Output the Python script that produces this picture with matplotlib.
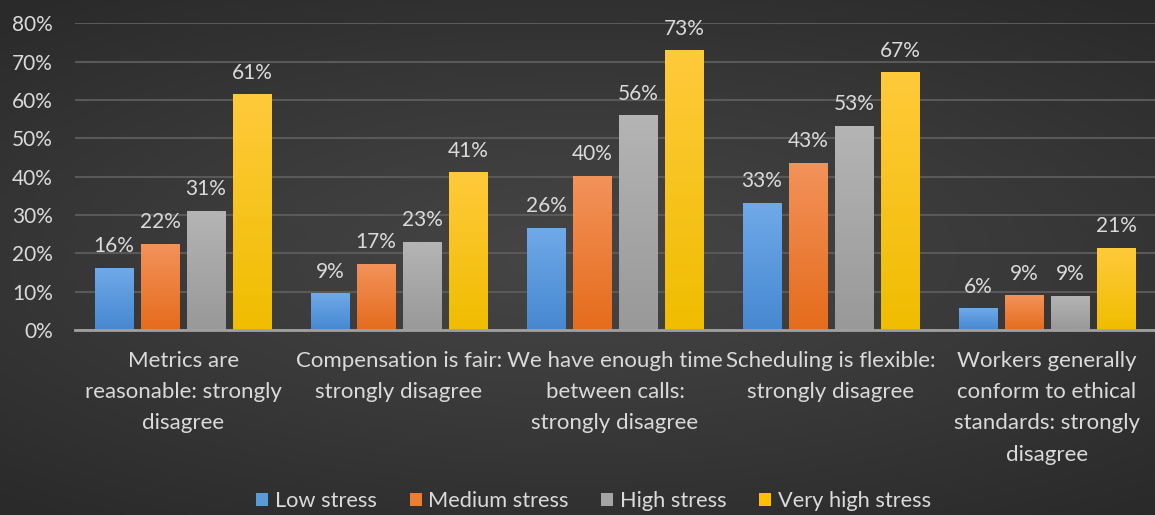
import numpy as np
import matplotlib.pyplot as plt
from matplotlib.colors import LinearSegmentedColormap
from matplotlib.patches import Patch

# %% Data
categories = ["Metrics are\nreasonable: strongly\ndisagree",
              "Compensation is fair:\nstrongly disagree",
              "We have enough time\nbetween calls:\nstrongly disagree",
              "Scheduling is flexible:\nstrongly disagree",
              "Workers generally\nconform to ethical\nstandards: strongly\ndisagree"]
series_names = ["Low stress", "Medium stress", "High stress", "Very high stress"]
low_stress = [0.16, 0.094, 0.265, 0.33, 0.055]
medium_stress = [0.224, 0.172, 0.40, 0.434, 0.089]
high_stress = [0.31, 0.228, 0.558, 0.53, 0.087]
very_high_stress = [0.613, 0.41, 0.728, 0.67, 0.213]
yticks = [0, 0.1, 0.2, 0.3, 0.4, 0.5, 0.6, 0.7, 0.8]

values = [low_stress, medium_stress, high_stress, very_high_stress]
# (top colour, bottom colour) for the Excel-like gradient fills
grad_colors = [("#6fa9e8", "#4688d0"),
               ("#f3925a", "#e56c1c"),
               ("#b4b4b4", "#999999"),
               ("#ffca3a", "#f0bd00")]
legend_colors = ["#5b9bd5", "#ed7d31", "#a5a5a5", "#ffc000"]
text_color = "#dadada"
font = "Lato"

fig = plt.figure(figsize=(11.55, 5.15), dpi=100)

# %% Dark radial background
bg_ax = fig.add_axes([0, 0, 1, 1], zorder=-10)
yy, xx = np.mgrid[-1:1:300j, -1:1:600j]
rr = np.sqrt((xx * 0.9) ** 2 + (yy * 1.1) ** 2)
bg_cmap = LinearSegmentedColormap.from_list("bg", ["#464646", "#393939", "#2a2a2a"])
bg_ax.imshow(rr, cmap=bg_cmap, aspect="auto", extent=[0, 1, 0, 1], vmin=0, vmax=1.4)
bg_ax.set_axis_off()

# %% Main axes
ax = fig.add_axes([0.065, 0.359, 0.935, 0.596])
ax.patch.set_alpha(0)
x = np.arange(len(categories))
width = 0.18
step = 0.213
offsets = (np.arange(len(series_names)) - 1.5) * step

for i, (name, vals) in enumerate(zip(series_names, values)):
    bars = ax.bar(x + offsets[i], vals, width, color="none", zorder=3)
    cmap = LinearSegmentedColormap.from_list(name, [grad_colors[i][1], grad_colors[i][0]])
    for b, v in zip(bars, vals):
        x0 = b.get_x()
        h = b.get_height()
        grad = np.linspace(0, 1, 64).reshape(-1, 1)
        ax.imshow(grad, cmap=cmap, origin="lower", aspect="auto",
                  extent=[x0, x0 + b.get_width(), 0, h], zorder=3)
        ax.text(x0 + b.get_width() / 2, h + 0.032, f"{round(v * 100):.0f}%",
                ha="center", va="bottom", color=text_color, fontsize=15, family=font)

ax.set_xlim(-0.5, len(categories) - 0.5)
ax.set_ylim(0, 0.8)
ax.set_yticks(yticks)
ax.set_yticklabels([f"{int(round(t * 100))}%" for t in yticks])
ax.set_xticks(x)
ax.set_xticklabels(categories, linespacing=1.7)
ax.tick_params(length=0, colors=text_color)
ax.tick_params(axis="x", pad=15, labelsize=16)
ax.tick_params(axis="y", pad=16, labelsize=15)
for lab in ax.get_xticklabels() + ax.get_yticklabels():
    lab.set_family(font)
ax.grid(axis="y", color="#595959", linewidth=1.5, zorder=0)
for s in ["top", "right", "left"]:
    ax.spines[s].set_visible(False)
ax.spines["bottom"].set_color("#a0a0a0")
ax.spines["bottom"].set_linewidth(2)
ax.spines["bottom"].set_zorder(4)

handles = [Patch(facecolor=c, edgecolor="none") for c in legend_colors]
fig.legend(handles, series_names, loc="center", bbox_to_anchor=(0.514, 0.027), ncol=4,
           frameon=False, handlelength=0.55, handleheight=0.55, handletextpad=0.3,
           columnspacing=1.5, prop={"family": font, "size": 15.7}, labelcolor=text_color)

fig.savefig("out.png", dpi=100)
